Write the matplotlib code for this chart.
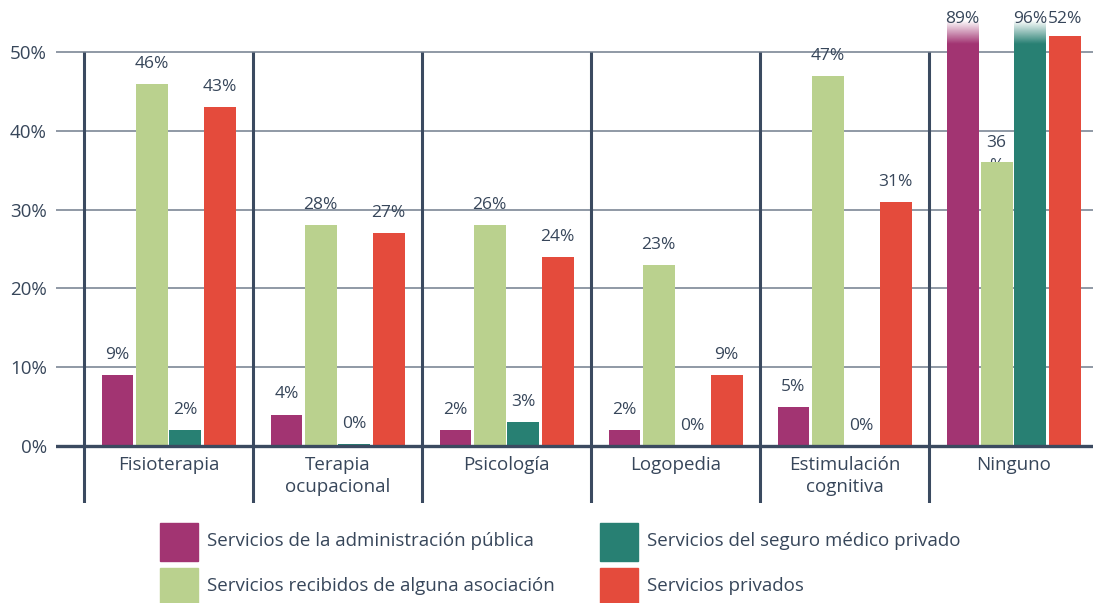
# Servicios recibidos por tipo de terapia - barras agrupadas
import numpy as np
import matplotlib.pyplot as plt
from matplotlib.patches import Rectangle
from matplotlib.colors import to_rgb

plt.rcParams['font.family'] = ['Open Sans', 'DejaVu Sans']

categorias = ['Fisioterapia', 'Terapia\nocupacional', 'Psicología', 'Logopedia',
              'Estimulación\ncognitiva', 'Ninguno']
series = ['Servicios de la administración pública',
          'Servicios recibidos de alguna asociación',
          'Servicios del seguro médico privado',
          'Servicios privados']

# alturas de barra (%)
admin_publica = [9, 4, 2, 2, 5, 89]
asociacion = [46, 28, 28, 23, 47, 36]
seguro_privado = [2, 0.3, 3, 0, 0, 96]
privados = [43, 27, 24, 9, 31, 52]

# etiquetas tal como aparecen
et_admin = ['9%', '4%', '2%', '2%', '5%', '89%']
et_asoc = ['46%', '28%', '26%', '23%', '47%', '36\n%']
et_seguro = ['2%', '0%', '3%', '0%', '0%', '96%']
et_priv = ['43%', '27%', '24%', '9%', '31%', '52%']

colores = ['#a23472', '#bad18e', '#288073', '#e44b3c']
texto = '#37465a'
oscuro = '#3b4a60'

valores = [admin_publica, asociacion, seguro_privado, privados]
etiquetas = [et_admin, et_asoc, et_seguro, et_priv]

W, H = 1093, 603
fig = plt.figure(figsize=(W / 100, H / 100), dpi=100)
ax = fig.add_axes([56 / W, 100 / H, 1 - 56 / W, 503 / H])

x = np.arange(len(categorias))
offsets = [-0.302, -0.1, 0.1, 0.302]
ancho = 0.189
tope = 51.0   # hasta aqui la barra es solida
corte = 54.0  # por encima se desvanece

for s in range(4):
    for i in x:
        v = valores[s][i]
        xc = i + offsets[s]
        if v > corte:
            ax.bar(xc, tope, ancho, color=colores[s], zorder=3)
            r, g, b = to_rgb(colores[s])
            grad = np.zeros((50, 2, 4))
            grad[..., 0], grad[..., 1], grad[..., 2] = r, g, b
            grad[..., 3] = np.linspace(1, 0, 50)[:, None]
            ax.imshow(grad, extent=[xc - ancho / 2, xc + ancho / 2, tope, corte],
                      origin='lower', aspect='auto', zorder=3, interpolation='bilinear')
        elif v > 0:
            ax.bar(xc, v, ancho, color=colores[s], zorder=3)
        lab = etiquetas[s][i]
        if '\n' in lab:
            # la segunda linea queda tapada por la barra
            ax.annotate(lab, (xc, v), xytext=(0, 27), textcoords='offset pixels',
                        ha='center', va='top', fontsize=12.5, color=texto,
                        linespacing=1.55, zorder=2)
        else:
            ax.annotate(lab, (xc, min(v + 2.54, 54.2)),
                        ha='center', va='center', fontsize=12.5, color=texto, zorder=4)

# lineas horizontales
for yv in range(10, 60, 10):
    ax.axhline(yv, color='#7d8796', lw=1.2, zorder=1)
ax.axhline(0, color=oscuro, lw=2.4, zorder=4)

# separadores verticales
for i in x:
    ax.plot([i - 0.5, i - 0.5], [-7.3, 50], color=oscuro, lw=2.2, zorder=4,
            solid_capstyle='butt')

for i, c in enumerate(categorias):
    ax.text(i, -1.3, c, ha='center', va='top', fontsize=13.5, color=texto,
            linespacing=1.3)

ax.set_xlim(-0.666, 5.47)
ax.set_ylim(-7.23, 56.6)
ax.set_yticks(range(0, 60, 10), [f'{v}%' for v in range(0, 60, 10)])
ax.tick_params(axis='y', length=0, pad=6.5, labelsize=13.5, labelcolor=texto)
ax.set_xticks([])
for sp in ax.spines.values():
    sp.set_visible(False)

# leyenda manual, dos columnas
pos_x = [160, 160, 600, 600]
pos_y = [523, 568, 523, 568]
for c, nombre, px, py in zip(colores, series, pos_x, pos_y):
    fig.patches.append(Rectangle((px / W, 1 - (py + 38) / H), 38 / W, 38 / H,
                                 transform=fig.transFigure, color=c))
    fig.text((px + 47) / W, 1 - (py + 18) / H, nombre, ha='left', va='center',
             fontsize=13.5, color=texto)

fig.savefig('out.png', dpi=100)
